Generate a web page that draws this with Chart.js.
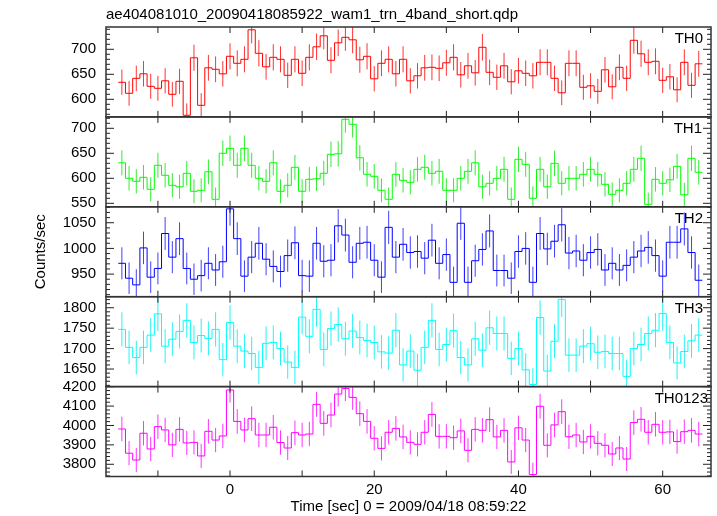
<!DOCTYPE html>
<html>
<head>
<meta charset="utf-8">
<script src="https://cdn.jsdelivr.net/npm/chart.js@4.4.1/dist/chart.umd.min.js"></script>
<style>
html, body { margin: 0; padding: 0; background: #fff; }
#wrap { position: relative; width: 717px; height: 516px; }
</style>
</head>
<body>
<div id="wrap"><canvas id="lc" width="717" height="516"></canvas></div>
<script>
// =========================
// DATA (1 s bins, counts/sec)
// =========================

const times = [-15,-14,-13,-12,-11,-10,-9,-8,-7,-6,-5,-4,-3,-2,-1,0,1,2,3,4,5,6,7,8,9,10,
  11,12,13,14,15,16,17,18,19,20,21,22,23,24,25,26,27,28,29,30,31,32,33,34,35,36,37,38,
  39,40,41,42,43,44,45,46,47,48,49,50,51,52,53,54,55,56,57,58,59,60,61,62,63,64,65];

const th0 = [634,612,642,651,626,622,637,610,636,568,683,588,663,660,651,686,672,680,739,
  692,665,684,680,648,680,652,684,705,727,678,713,724,719,679,686,641,672,680,
  651,680,637,647,663,664,662,673,684,649,667,653,704,654,644,667,635,657,652,647,674,
  674,642,613,672,672,624,627,616,659,625,664,642,718,691,674,676,638,645,619,674,628,671];

const th1 = [631,600,594,602,578,626,606,586,583,610,574,576,613,558,650,660,626,660,626,
  600,594,631,574,586,622,574,598,599,610,648,649,718,708,641,608,604,576,558,
  608,596,592,618,622,610,614,576,576,600,614,631,583,590,600,618,558,638,628,560,618,
  583,630,590,600,600,608,618,608,588,568,576,590,618,640,548,598,590,597,624,567,640,612];

const th2 = [971,942,929,1001,944,961,1029,983,1019,961,940,947,971,958,974,1077,1019,946,
  983,1010,979,965,955,986,1011,947,946,1010,975,977,1044,1026,973,1010,1012,977,944,1041,
  983,1008,992,994,981,1016,971,988,934,1049,934,976,998,1034,957,957,942,994,1000,934,
  1029,999,1014,1046,991,995,977,992,998,958,971,958,967,983,995,1002,986,946,1012,1012,
  1038,992,938];

const th3 = [1747,1703,1678,1703,1733,1785,1706,1723,1742,1769,1715,1732,1725,1747,1673,
  1764,1706,1694,1688,1654,1713,1715,1700,1667,1654,1777,1730,1796,1698,1749,1759,1724,
  1743,1727,1720,1715,1692,1689,
  1745,1660,1694,1647,1703,1769,1698,1710,1744,1678,1660,1724,1696,1751,1737,1737,1676,
  1700,1648,1612,1776,1645,1718,1820,1684,1684,1706,1712,1691,1693,1688,1688,1632,1700,
  1710,1737,1745,1786,1715,1665,1693,1719,1733];

const th0123 = [3982,3857,3822,3960,3879,3994,3977,3900,3980,3910,3913,3843,3970,3925,3946,
  4183,4021,3977,4035,3951,3951,3991,3912,3884,3963,3951,3956,4109,4011,4054,4162,4191,
  4145,4061,4021,3934,3882,3965,
  3985,3941,3913,3903,3965,4057,3944,3944,3937,3972,3872,3980,3975,4030,3941,3975,3812,
  3988,3925,3747,4099,3898,4003,4071,3942,3951,3915,3944,3908,3898,3853,3884,3827,4015,
  4032,3965,4006,3965,3967,3917,3968,3975,3956];

const series = [th0, th1, th2, th3, th0123];
const panelNames = ['TH0', 'TH1', 'TH2', 'TH3', 'TH0123'];

// axis ranges and tick steps
const yMins  = [564.8, 543, 906, 1607, 3737];
const yMaxs  = [744.6, 722.8, 1081, 1827, 4200.5];
const yMajor = [50, 50, 50, 50, 100];
const yMinor = [10, 10, 10, 10, 20];
const xMin = -17.2;
const xMax = 66.7;
const xStep = 10;
const xLabelStep = 20;

// =========================
// STYLE
// =========================

const colors = ['#ff0000', '#00ff00', '#0000ff', '#00ffff', '#ff00ff'];
const errColors = ['rgba(255,0,0,0.8)', 'rgba(0,230,0,0.8)', 'rgba(0,0,255,0.75)',
  'rgba(0,240,240,0.85)', 'rgba(255,0,255,0.8)'];
const labelX = [703, 702, 703, 703, 708];
const FONT = "'Liberation Sans', Arial, sans-serif";

const isMult = (v, m) => Math.abs(v / m - Math.round(v / m)) < 1e-6;

function stepTicks(min, max, step) {
  const out = [];
  for (let v = Math.ceil(min / step) * step; v <= max + 1e-9; v += step) {
    out.push({ value: Math.round(v * 1000) / 1000 });
  }
  return out;
}

// =========================
// DATASETS (histogram steps)
// =========================

const datasets = series.map((vals, p) => {
  const pts = times.map((t, i) => ({ x: t - 0.5, y: vals[i] }));
  pts.push({ x: times[times.length - 1] + 0.5, y: vals[vals.length - 1] });
  return {
    label: panelNames[p],
    data: pts,
    rates: vals,
    errColor: errColors[p],
    yAxisID: 'y' + p,
    borderColor: colors[p],
    borderWidth: 1,
    pointRadius: 0,
    stepped: 'before',
    tension: 0,
    fill: false
  };
});

// =========================
// SCALES
// =========================

const scales = {
  x: {
    type: 'linear',
    position: 'bottom',
    min: xMin,
    max: xMax,
    grid: { display: false, drawTicks: false },
    border: { display: false },
    afterBuildTicks: s => { s.ticks = stepTicks(xMin, xMax, xStep); },
    ticks: {
      autoSkip: false,
      maxRotation: 0,
      padding: 4,
      color: '#000',
      font: { family: FONT, size: 15 },
      callback: v => (isMult(v, xLabelStep) ? String(Math.round(v)) : '')
    },
    title: {
      display: true,
      text: 'Time [sec] 0 = 2009/04/18 08:59:22',
      color: '#000',
      font: { family: FONT, size: 15 },
      padding: { top: 0, bottom: 0 }
    },
    afterFit: s => { s.height = 39.5; }
  }
};

panelNames.forEach((name, p) => {
  scales['y' + p] = {
    type: 'linear',
    position: 'left',
    stack: 'panels',
    stackWeight: 1,
    weight: 10 - p,
    min: yMins[p],
    max: yMaxs[p],
    grid: { display: false, drawTicks: false },
    border: { display: false },
    afterBuildTicks: s => { s.ticks = stepTicks(yMins[p], yMaxs[p], yMinor[p]); },
    ticks: {
      autoSkip: false,
      padding: 10,
      color: '#000',
      font: { family: FONT, size: 15 },
      callback: v => (isMult(v, yMajor[p]) ? String(Math.round(v)) : '')
    },
    title: {
      display: p === 2,
      text: 'Counts/sec',
      color: '#000',
      font: { family: FONT, size: 15 },
      padding: { top: 32, bottom: 0 }
    },
    afterFit: s => { s.width = 106; }
  };
});

// =========================
// PANEL PLUGIN
// =========================

const panelPlugin = {
  id: 'panels',
  beforeDatasetDraw(chart, args) {
    const ds = chart.data.datasets[args.index];
    const ys = chart.scales[ds.yAxisID];
    const xs = chart.scales.x;
    const a = chart.chartArea;
    const ctx = chart.ctx;
    ctx.save();
    ctx.beginPath();
    ctx.rect(a.left, ys.top, a.right - a.left, ys.bottom - ys.top);
    ctx.clip();
    // poisson error bars
    ctx.strokeStyle = ds.errColor;
    ctx.lineWidth = 1;
    ctx.beginPath();
    times.forEach((t, i) => {
      const v = ds.rates[i];
      const e = Math.sqrt(v);
      const px = xs.getPixelForValue(t);
      ctx.moveTo(px, ys.getPixelForValue(v - e));
      ctx.lineTo(px, ys.getPixelForValue(v + e));
    });
    ctx.stroke();
  },
  afterDatasetDraw(chart) {
    chart.ctx.restore();
  },
  afterDraw(chart) {
    const ctx = chart.ctx;
    const a = chart.chartArea;
    const xs = chart.scales.x;
    ctx.save();
    panelNames.forEach((name, p) => {
      const ys = chart.scales['y' + p];
      ctx.strokeStyle = '#222';
      ctx.lineWidth = 1;
      ctx.beginPath();
      xs.ticks.forEach(tk => {
        const px = xs.getPixelForValue(tk.value);
        ctx.moveTo(px, ys.top);
        ctx.lineTo(px, ys.top + 6);
        ctx.moveTo(px, ys.bottom);
        ctx.lineTo(px, ys.bottom - 6);
      });
      ys.ticks.forEach(tk => {
        const py = ys.getPixelForValue(tk.value);
        const len = isMult(tk.value, yMajor[p]) ? 8 : 4;
        ctx.moveTo(a.left, py);
        ctx.lineTo(a.left + len, py);
        ctx.moveTo(a.right, py);
        ctx.lineTo(a.right - len, py);
      });
      ctx.stroke();
      ctx.lineWidth = 1.5;
      ctx.strokeStyle = '#333';
      ctx.strokeRect(a.left, ys.top, a.right - a.left, ys.bottom - ys.top);
      ctx.fillStyle = '#000';
      ctx.font = '15px ' + FONT;
      ctx.textAlign = 'right';
      ctx.textBaseline = 'alphabetic';
      ctx.fillText(name, labelX[p], ys.top + 16);
    });
    ctx.restore();
  }
};

// =========================
// CHART
// =========================

new Chart(document.getElementById('lc'), {
  type: 'line',
  data: { datasets },
  options: {
    responsive: false,
    animation: false,
    devicePixelRatio: 1,
    layout: { padding: { left: 0, right: 6, top: 0, bottom: 0 } },
    plugins: {
      legend: { display: false },
      tooltip: { enabled: false },
      title: {
        display: true,
        text: 'ae404081010_20090418085922_wam1_trn_4band_short.qdp',
        align: 'start',
        fullSize: false,
        color: '#000',
        font: { family: FONT, size: 15, weight: 'normal' },
        padding: { top: 6, bottom: 3 }
      }
    },
    scales
  },
  plugins: [panelPlugin]
});
</script>
</body>
</html>
